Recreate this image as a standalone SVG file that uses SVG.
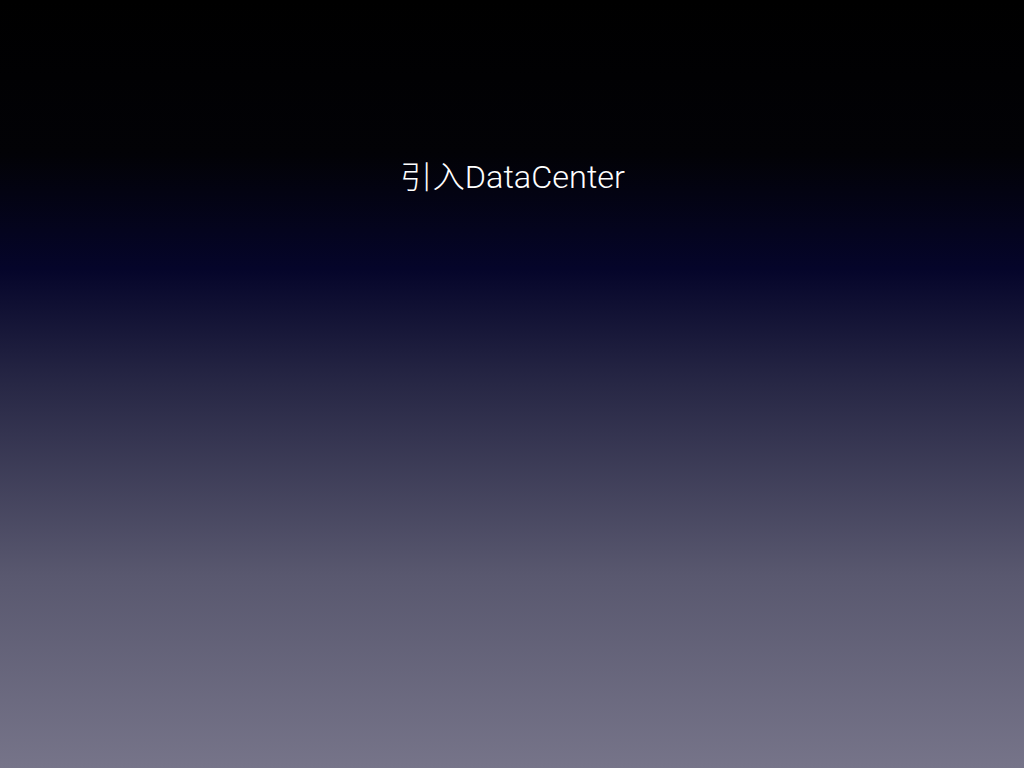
<svg xmlns="http://www.w3.org/2000/svg" width="1024" height="768" viewBox="0 0 1024 768">
<defs>
<linearGradient id="bg" x1="0" y1="0" x2="0" y2="1">
<stop offset="0" stop-color="#000000"/>
<stop offset="0.2" stop-color="#020206"/>
<stop offset="0.35" stop-color="#05052a"/>
<stop offset="0.5" stop-color="#272745"/>
<stop offset="0.75" stop-color="#59586f"/>
<stop offset="1" stop-color="#767489"/>
</linearGradient>
</defs>
<style>.title{font-family:"Roboto","Noto Sans CJK SC",sans-serif;font-size:31px;fill:#ffffff;font-weight:300}</style>
<rect id="background" x="0" y="0" width="1024" height="768" fill="url(#bg)"/>
<g id="title"><text class="title" x="400" y="188" textLength="225" lengthAdjust="spacingAndGlyphs">引入DataCenter</text></g>
</svg>
